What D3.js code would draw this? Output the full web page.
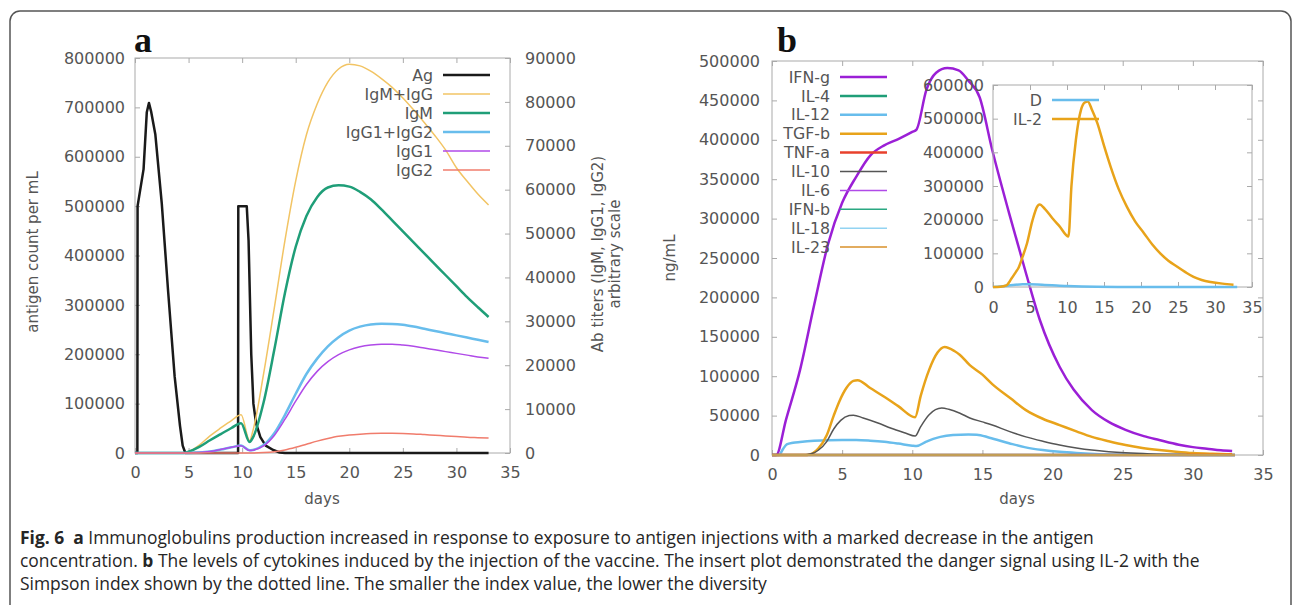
<!DOCTYPE html>
<html>
<head>
<meta charset="utf-8">
<script src="https://cdn.jsdelivr.net/npm/d3@7"></script>
<style>
  body { margin: 0; background: #fff; }
  svg { display: block; }
</style>
</head>
<body>
<div id="container"></div>
<script>
// ---- panel a : antigen + antibody titers (days, value) ----
const agData = [[0,0],[0.22,0],[0.24,500000],[0.8,575000],[1.1,690000],[1.3,709000],[1.5,692000],[1.9,645000],[2.5,505000],[3.1,325000],[3.7,155000],[4.2,55000],[4.45,15000],[4.7,0],[9.62,0],[9.64,500000],[10.43,500000],[10.6,430000],[10.85,200000],[11.05,100000],[11.3,60000],[11.7,32000],[12.2,15000],[12.9,6000],[13.5,1000],[14,0],[33,0]];
const igmIggData = [[0,0],[4.6,0],[5,300],[6,1800],[7,3900],[8,5700],[9,7400],[9.9,8700],[10.7,2800],[11,5000],[12,18000],[13,33000],[14,48500],[15,62000],[16,72500],[17,79500],[18,84500],[19,87500],[20,88600],[21,88200],[22,87000],[23,85300],[24,83300],[25,80900],[26,78200],[27,75300],[28,72300],[29,69000],[30,65000],[31,61900],[32,59000],[33,56500]];
const igmData = [[0,0],[4.6,0],[5,300],[6,1400],[7,2900],[8,4300],[9,5700],[9.9,6800],[10.7,2500],[11,3500],[12,11500],[13,23500],[14,36500],[15,47000],[16,54000],[17,58300],[18,60500],[19,61000],[20,60700],[21,59500],[22,57800],[23,55500],[24,53000],[25,50500],[26,48000],[27,45500],[28,43000],[29,40500],[30,38000],[31,35500],[32,33200],[33,31000]];
const igg12Data = [[0,0],[5,0],[6,100],[7,350],[8,800],[9,1300],[9.9,1700],[10.7,600],[11,700],[12,1800],[13,4500],[14,8700],[15,13500],[16,18000],[17,21500],[18,24300],[19,26400],[20,27900],[21,28800],[22,29300],[23,29450],[24,29400],[25,29200],[26,28800],[27,28300],[28,27800],[29,27300],[30,26800],[31,26300],[32,25800],[33,25300]];
const igg1Data = [[0,0],[5,0],[6,100],[7,350],[8,800],[9,1300],[9.9,1650],[10.7,550],[11,650],[12,1600],[13,4000],[14,7700],[15,11800],[16,15600],[17,18600],[18,20800],[19,22400],[20,23500],[21,24200],[22,24600],[23,24800],[24,24800],[25,24600],[26,24300],[27,23900],[28,23500],[29,23100],[30,22700],[31,22300],[32,21900],[33,21600]];
const igg2Data = [[0,0],[11,0],[12,100],[13,300],[14,700],[15,1300],[16,2000],[17,2700],[18,3300],[19,3800],[20,4100],[21,4300],[22,4450],[23,4500],[24,4500],[25,4450],[26,4350],[27,4200],[28,4050],[29,3900],[30,3750],[31,3600],[32,3500],[33,3400]];

// ---- panel b : cytokines ----
const ifngData = [[0,0],[0.3,0],[1,45000],[2,108000],[3,190000],[4,268000],[5,320000],[6,353000],[7,380000],[8,393000],[9,401000],[10,410000],[10.3,413000],[11,463000],[11.7,485000],[12.5,491000],[13.3,488000],[14,475000],[14.8,454000],[15.7,387000],[16.9,307000],[18.1,231000],[19.1,171000],[20.5,112000],[21.5,83000],[22.8,57000],[24,42000],[25.2,32000],[26.5,24000],[27.6,19000],[29,13000],[30,10000],[31,8000],[32,6000],[32.8,5000]];
const il4Data = [[0,0],[33,0]];
const il12Data = [[0,0],[0.5,0],[0.8,8000],[1.05,13500],[1.5,15500],[2,16500],[3,18000],[4,18800],[5,19000],[6,19000],[7,18200],[8,16800],[9,14500],[10,11800],[10.3,11400],[11,17000],[11.5,20500],[12,23000],[12.9,25300],[14,26000],[14.6,25800],[15.5,22000],[16.9,15000],[18,10000],[19.3,6300],[20.5,4000],[21.7,2500],[23,1400],[25,600],[27,200],[30,50],[33,0]];
const tgfbData = [[0,0],[2.5,0],[2.9,2000],[3.3,8000],[3.9,25000],[4.4,50000],[4.8,68000],[5.3,85000],[5.8,94000],[6.1,95000],[7,85000],[8,74000],[9,62000],[10.2,48000],[10.6,75000],[11.2,108000],[11.8,130000],[12.3,137000],[13,132000],[13.4,127000],[14.1,114000],[15,102000],[15.7,90000],[17,72000],[18.1,57000],[19.3,46000],[20.5,38000],[21.7,30000],[22.8,23000],[24,17500],[25.2,12700],[26.4,9000],[27.6,6300],[28.8,4200],[30,2500],[31.4,1500],[32.8,900]];
const tnfaData = [[0,0],[33,0]];
const il10Data = [[0,0],[2.3,0],[2.8,1500],[3.3,6000],[3.9,17000],[4.4,33000],[4.9,44000],[5.5,50000],[5.8,50500],[6.5,47000],[7.5,41000],[8.5,34000],[9.5,28000],[10.2,24000],[10.6,36000],[11.2,51000],[12.1,59500],[12.6,58000],[13.4,53000],[14.1,47000],[15,42000],[15.7,38000],[16.9,30000],[18.1,23000],[19.3,17500],[20.5,12700],[21.7,9000],[22.8,6300],[24,4200],[25.2,2700],[27,1300],[29,500],[31,200],[32.8,100]];
const il6Data = [[0,0],[33,0]];
const ifnbData = [[0,0],[33,0]];
const il18Data = [[0,0],[33,0]];
const il23Data = [[0,0],[33,0]];

// ---- inset : danger signal ----
const dData = [[0,0],[1,1500],[2,4000],[3,6500],[4,8000],[5,8200],[6,7500],[7,6200],[8,5000],[9,4000],[10,3000],[12,1500],[14,800],[17,300],[20,100],[25,0],[33,0]];
const il2Data = [[0,0],[1,1000],[1.8,5000],[2.5,25000],[3.1,45000],[3.4,55000],[4,90000],[4.6,130000],[5.3,195000],[6,240000],[6.3,245000],[7,232000],[8,205000],[9,180000],[10.2,150000],[10.6,300000],[11.2,437000],[11.9,527000],[12.4,548000],[12.8,551000],[13.4,525000],[14.1,487000],[15,420000],[15.9,357000],[17,290000],[18.1,238000],[19.2,195000],[20.4,160000],[21.5,127000],[22.6,100000],[23.7,78000],[24.9,60000],[26,44000],[27.1,30000],[28.2,21000],[29.4,15000],[31,10000],[32.5,7000]];

// ---- ticks ----
const dayTicks = [0,5,10,15,20,25,30,35];
const agTicks = [0,100000,200000,300000,400000,500000,600000,700000,800000];
const abTicks = [0,10000,20000,30000,40000,50000,60000,70000,80000,90000];
const cytoTicks = [0,50000,100000,150000,200000,250000,300000,350000,400000,450000,500000];
const insetTicks = [0,100000,200000,300000,400000,500000,600000];

const W = 1293, H = 605;
const font = "'DejaVu Sans', sans-serif";
const textColor = "#555";
const borderColor = "#aaa";
const fmt = d3.format("d");

const svg = d3.select("#container")
  .append("svg")
  .attr("width", W)
  .attr("height", H)
  .style("background-color", "#fff");

// outer frame of the figure
svg.append("rect")
  .attr("x", 10).attr("y", 11)
  .attr("width", 1281).attr("height", 612)
  .attr("rx", 10)
  .attr("fill", "none")
  .attr("stroke", "#555")
  .attr("stroke-width", 1.5);

function styleAxis(g) {
  g.attr("font-family", null).attr("font-size", null);
  g.select(".domain").remove();
  g.selectAll(".tick line").attr("stroke", borderColor);
  g.selectAll(".tick text")
    .attr("fill", textColor)
    .style("font-family", font)
    .style("font-size", "16px");
}

// gnuplot-like box: inward ticks on all four sides
function frame(x, y, yTicks, opts) {
  const [x0, x1] = x.range();
  const [y0, y1] = y.range();
  svg.append("g").attr("transform", `translate(0,${y0})`)
    .call(d3.axisBottom(x).tickValues(dayTicks).tickSize(-5).tickPadding(opts.bottomPad))
    .call(styleAxis);
  svg.append("g").attr("transform", `translate(0,${y1})`)
    .call(d3.axisTop(x).tickValues(dayTicks).tickSize(-5).tickFormat(""))
    .call(styleAxis);
  svg.append("g").attr("transform", `translate(${x0},0)`)
    .call(d3.axisLeft(y).tickValues(yTicks).tickFormat(fmt).tickSize(-5).tickPadding(opts.leftPad))
    .call(styleAxis);
  if (!opts.noRight) {
    svg.append("g").attr("transform", `translate(${x1},0)`)
      .call(d3.axisRight(y).tickValues(yTicks).tickSize(-5).tickFormat(""))
      .call(styleAxis);
  }
  svg.append("rect")
    .attr("x", x0).attr("y", y1)
    .attr("width", x1 - x0).attr("height", y0 - y1)
    .attr("fill", "none")
    .attr("stroke", borderColor)
    .attr("stroke-width", 1);
}

function drawLine(data, x, y, color, width, curve) {
  svg.append("path")
    .datum(data)
    .attr("fill", "none")
    .attr("stroke", color)
    .attr("stroke-width", width)
    .attr("stroke-linejoin", "round")
    .attr("d", d3.line().x(d => x(d[0])).y(d => y(d[1])).curve(curve || d3.curveMonotoneX));
}

function legend(items, xRight, yStart, step) {
  items.forEach((it, i) => {
    const yy = yStart + i * step;
    svg.append("text")
      .attr("x", xRight).attr("y", yy)
      .attr("dy", "0.36em")
      .attr("text-anchor", "end")
      .style("font-family", font).style("font-size", "15.8px")
      .attr("fill", textColor)
      .text(it.name);
    svg.append("line")
      .attr("x1", xRight + 10).attr("x2", xRight + 57)
      .attr("y1", yy).attr("y2", yy)
      .attr("stroke", it.color).attr("stroke-width", it.w);
  });
}

function label(txt, x, y, rotate, opts) {
  const t = svg.append("text")
    .attr("text-anchor", "middle")
    .style("font-family", (opts && opts.family) || font)
    .style("font-size", ((opts && opts.size) || 15) + "px")
    .style("font-weight", (opts && opts.weight) || "normal")
    .attr("fill", (opts && opts.color) || textColor)
    .text(txt);
  if (rotate) t.attr("transform", `translate(${x},${y}) rotate(-90)`);
  else t.attr("x", x).attr("y", y);
  return t;
}

// ================= panel a =================
const xA = d3.scaleLinear().domain([0, 35]).range([135, 510]);
const yA = d3.scaleLinear().domain([0, 800000]).range([453, 58]);
const yA2 = d3.scaleLinear().domain([0, 90000]).range([453, 58]);

frame(xA, yA, agTicks, { bottomPad: 14, leftPad: 10, noRight: true });
svg.append("g").attr("transform", "translate(510,0)")
  .call(d3.axisRight(yA2).tickValues(abTicks).tickFormat(fmt).tickSize(-5).tickPadding(15))
  .call(styleAxis);

const seriesA = [
  { name: "Ag", data: agData, color: "#1a1a1a", w: 2.5, axis: yA, curve: d3.curveLinear },
  { name: "IgM+IgG", data: igmIggData, color: "#f2c464", w: 1.5, axis: yA2 },
  { name: "IgM", data: igmData, color: "#1f9e78", w: 2.5, axis: yA2 },
  { name: "IgG1+IgG2", data: igg12Data, color: "#68bdec", w: 2.5, axis: yA2 },
  { name: "IgG1", data: igg1Data, color: "#b04ae8", w: 1.5, axis: yA2 },
  { name: "IgG2", data: igg2Data, color: "#f07c6c", w: 1.5, axis: yA2 }
];
seriesA.forEach(s => drawLine(s.data, xA, s.axis, s.color, s.w, s.curve));
legend(seriesA, 433, 75, 19);

label("antigen count per mL", 38, 252, true);
label("Ab titers (IgM, IgG1, IgG2)", 603, 254, true);
label("arbitrary scale", 620, 254, true);
label("days", 322, 504, false);
label("a", 143, 52, false, { family: "'Liberation Serif', serif", size: 36, weight: "bold", color: "#111" });

// ================= panel b =================
const xB = d3.scaleLinear().domain([0, 35]).range([772, 1263]);
const yB = d3.scaleLinear().domain([0, 500000]).range([455, 61]);

frame(xB, yB, cytoTicks, { bottomPad: 14, leftPad: 12 });

const seriesB = [
  { name: "IFN-g", data: ifngData, color: "#9b1fd6", w: 2.5 },
  { name: "IL-4", data: il4Data, color: "#1f9e78", w: 2.5 },
  { name: "IL-12", data: il12Data, color: "#68bdec", w: 2.5 },
  { name: "TGF-b", data: tgfbData, color: "#e8a31a", w: 2.5 },
  { name: "TNF-a", data: tnfaData, color: "#e8412c", w: 2.5 },
  { name: "IL-10", data: il10Data, color: "#555555", w: 1.5 },
  { name: "IL-6", data: il6Data, color: "#b04ae8", w: 1.5 },
  { name: "IFN-b", data: ifnbData, color: "#2aa882", w: 1.5 },
  { name: "IL-18", data: il18Data, color: "#92d3f2", w: 1.5 },
  { name: "IL-23", data: il23Data, color: "#d8902a", w: 1.5 }
];
seriesB.forEach(s => drawLine(s.data, xB, yB, s.color, s.w));
legend(seriesB, 830, 77, 18.9);

label("ng/mL", 675, 258, true);
label("days", 1017, 504, false);
label("b", 787, 52, false, { family: "'Liberation Serif', serif", size: 36, weight: "bold", color: "#111" });

// ---- inset ----
const xI = d3.scaleLinear().domain([0, 35]).range([993, 1252]);
const yI = d3.scaleLinear().domain([0, 600000]).range([287, 85]);
frame(xI, yI, insetTicks, { bottomPad: 15, leftPad: 9 });

const seriesI = [
  { name: "D", data: dData, color: "#68bdec", w: 2.5 },
  { name: "IL-2", data: il2Data, color: "#e8a31a", w: 2.5 }
];
seriesI.forEach(s => drawLine(s.data, xI, yI, s.color, s.w));
legend(seriesI, 1042, 100, 19);

// ================= caption =================
const capFont = "'Open Sans', sans-serif";
const caption = [
  [["Fig. 6", true], ["\u00a0\u00a0", false], ["a", true], [" Immunoglobulins production increased in response to exposure to antigen injections with a marked decrease in the antigen", false]],
  [["concentration. ", false], ["b", true], [" The levels of cytokines induced by the injection of the vaccine. The insert plot demonstrated the danger signal using IL-2 with the", false]],
  [["Simpson index shown by the dotted line. The smaller the index value, the lower the diversity", false]]
];
const capLines = caption.map((parts, i) => {
  const t = svg.append("text")
    .attr("x", 20).attr("y", 544 + i * 23)
    .style("font-family", capFont)
    .style("font-size", "17px")
    .attr("fill", "#262626");
  parts.forEach(p => t.append("tspan").style("font-weight", p[1] ? "bold" : "normal").text(p[0]));
  return t;
});
// fit the caption to the total width its three lines take in the figure
const capTotal = d3.sum(capLines, t => t.node().getComputedTextLength());
const capSize = 17 * (1025 + 1220 + 758) / capTotal;
capLines.forEach(t => t.style("font-size", capSize + "px"));
</script>
</body>
</html>
